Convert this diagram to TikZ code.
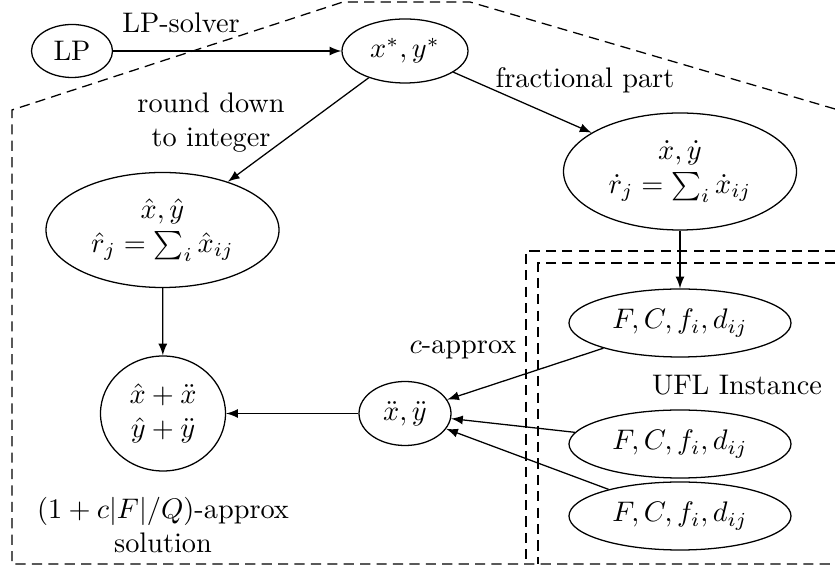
\documentclass[tikz,border=0pt]{standalone}
\usetikzlibrary{shapes.geometric,arrows}
\newlength\pxu
\setlength\pxu{0.3534pt}
\begin{document}
\begin{tikzpicture}[x=0.3534pt,y=-0.3534pt,
  ell/.style={draw,ellipse,inner sep=0pt,align=center,line width=0.45pt},
  lbl/.style={inner sep=0pt,align=center},
  conn/.style={-latex,line width=0.45pt},
  bound/.style={dash pattern=on 3.6pt off 2.2pt,line width=0.45pt}]
\useasboundingbox (0,0) rectangle (835,571);
% dashed regions
\draw[bound] (835,109) -- (470,2) -- (343,2) -- (12,110) -- (12,564) -- (835,564);
\draw[bound] (835,251) -- (526,251) -- (526,564);
\draw[bound] (835,263) -- (538,263) -- (538,564);
% ellipses with their texts
\node[ell,minimum width=81\pxu,minimum height=53\pxu] (lp) at (72,51) {LP};
\node[ell,minimum width=126\pxu,minimum height=64\pxu] (xy) at (405,51) {$x^*,y^*$};
\node[ell,minimum width=233\pxu,minimum height=117\pxu] (xdot) at (680,171.5)
  {$\dot x,\dot y$\\$\dot r_j=\sum_i \dot x_{ij}$};
\node[ell,minimum width=233\pxu,minimum height=115\pxu] (xhat) at (162.5,230)
  {$\hat x,\hat y$\\$\hat r_j=\sum_i \hat x_{ij}$};
\node[ell,minimum width=125\pxu,minimum height=115\pxu] (sum) at (163,413.5)
  {$\hat x+\ddot x$\\$\hat y+\ddot y$};
\node[ell,minimum width=92\pxu,minimum height=64\pxu] (xdd) at (405,413.5) {$\ddot x,\ddot y$};
\node[ell,minimum width=222\pxu,minimum height=68\pxu] (f1) at (680,323) {$F,C,f_i,d_{ij}$};
\node[ell,minimum width=222\pxu,minimum height=68\pxu] (f2) at (680,444) {$F,C,f_i,d_{ij}$};
\node[ell,minimum width=222\pxu,minimum height=68\pxu] (f3) at (680,516) {$F,C,f_i,d_{ij}$};
% labels
\node[lbl] (l1) at (181,23) {LP-solver};
\node[lbl] (l2) at (211,123) {round down\\to integer};
\node[lbl] (l3) at (585,80) {fractional part};
\node[lbl] (l4) at (463,350) {$c$-approx};
\node[lbl] (l5) at (737,385) {UFL Instance};
\node[lbl] (l6) at (163,525) {$(1+c|F|/Q)$-approx\\solution};
% connectors
\draw[conn] (lp) -- (xy);
\draw[conn] (xy) -- (xhat);
\draw[conn] (xy) -- (xdot);
\draw[conn] (xdot) -- (f1);
\draw[conn] (xhat) -- (sum);
\draw[conn] (xdd) -- (sum);
\draw[conn] (f1) -- (xdd);
\draw[conn] (f2) -- (xdd);
\draw[conn] (f3) -- (xdd);
\end{tikzpicture}
\end{document}
